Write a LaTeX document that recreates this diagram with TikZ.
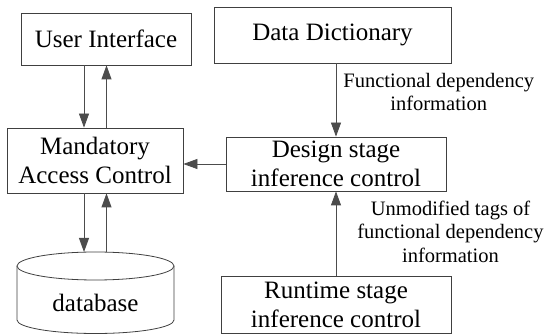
\documentclass[tikz,border=0pt]{standalone}
\usepackage{fontspec}
\setmainfont{Liberation Serif}
\usepackage{tikz}
\usetikzlibrary{positioning, arrows.meta}

\begin{document}
\begin{tikzpicture}[
    x=1pt, y=-1pt,
    every node/.style={
        align=center,
        inner sep=0pt,
        font=\fontsize{25}{29}\selectfont
    },
    box/.style={draw=black!75, line width=0.8pt, fill=white},
    arrow/.style={-{Triangle[length=14pt,width=10pt]}, draw=black!70, line width=0.8pt},
    prop/.style={font=\fontsize{20.5}{23.5}\selectfont}
]
\useasboundingbox (0,0) rectangle (547,334);

\node[box, minimum width=170pt, minimum height=52pt] (ui) at (106,39) {User Interface};
\node[box, minimum width=176pt, minimum height=65pt] (mac) at (95,160.5) {Mandatory\\Access Control};
\node[box, minimum width=237pt, minimum height=56pt] (dict) at (332.5,35) {Data Dictionary};
\node[box, minimum width=220pt, minimum height=54pt] (design) at (336,164) {Design stage\\inference control};
\node[box, minimum width=230pt, minimum height=57pt] (runtime) at (336,304.5) {Runtime stage\\inference control};

% database cylinder
\draw[black!75, line width=0.8pt, fill=white] (17,266) -- (17,320)
    arc[start angle=180, end angle=0, x radius=78.5, y radius=13.5] -- (174,266);
\draw[black!75, line width=0.8pt, fill=white] (95.5,266) ellipse [x radius=78.5, y radius=14];
\node (db) at (95.5,303) {database};
\coordinate (dbtop) at (95.5,252);

\coordinate (dn) at (84,0);
\coordinate (up) at (106.5,0);

\draw[arrow] (ui.south -| dn) -- (mac.north -| dn);
\draw[arrow] (mac.north -| up) -- (ui.south -| up);
\draw[arrow] (mac.south -| dn) -- (dbtop -| dn);
\draw[arrow] (dbtop -| up) -- (mac.south -| up);

\draw[arrow] (design.north |- dict.south) -- node[prop, pos=0.39, right=7pt]{Functional dependency\\information} (design.north);
\draw[arrow] (runtime.north) -- node[prop, pos=0.52, right=21pt]{Unmodified tags of\\functional dependency\\information} (design.south);
\draw[arrow] (design.west) -- (design.west -| mac.east);

\end{tikzpicture}
\end{document}
